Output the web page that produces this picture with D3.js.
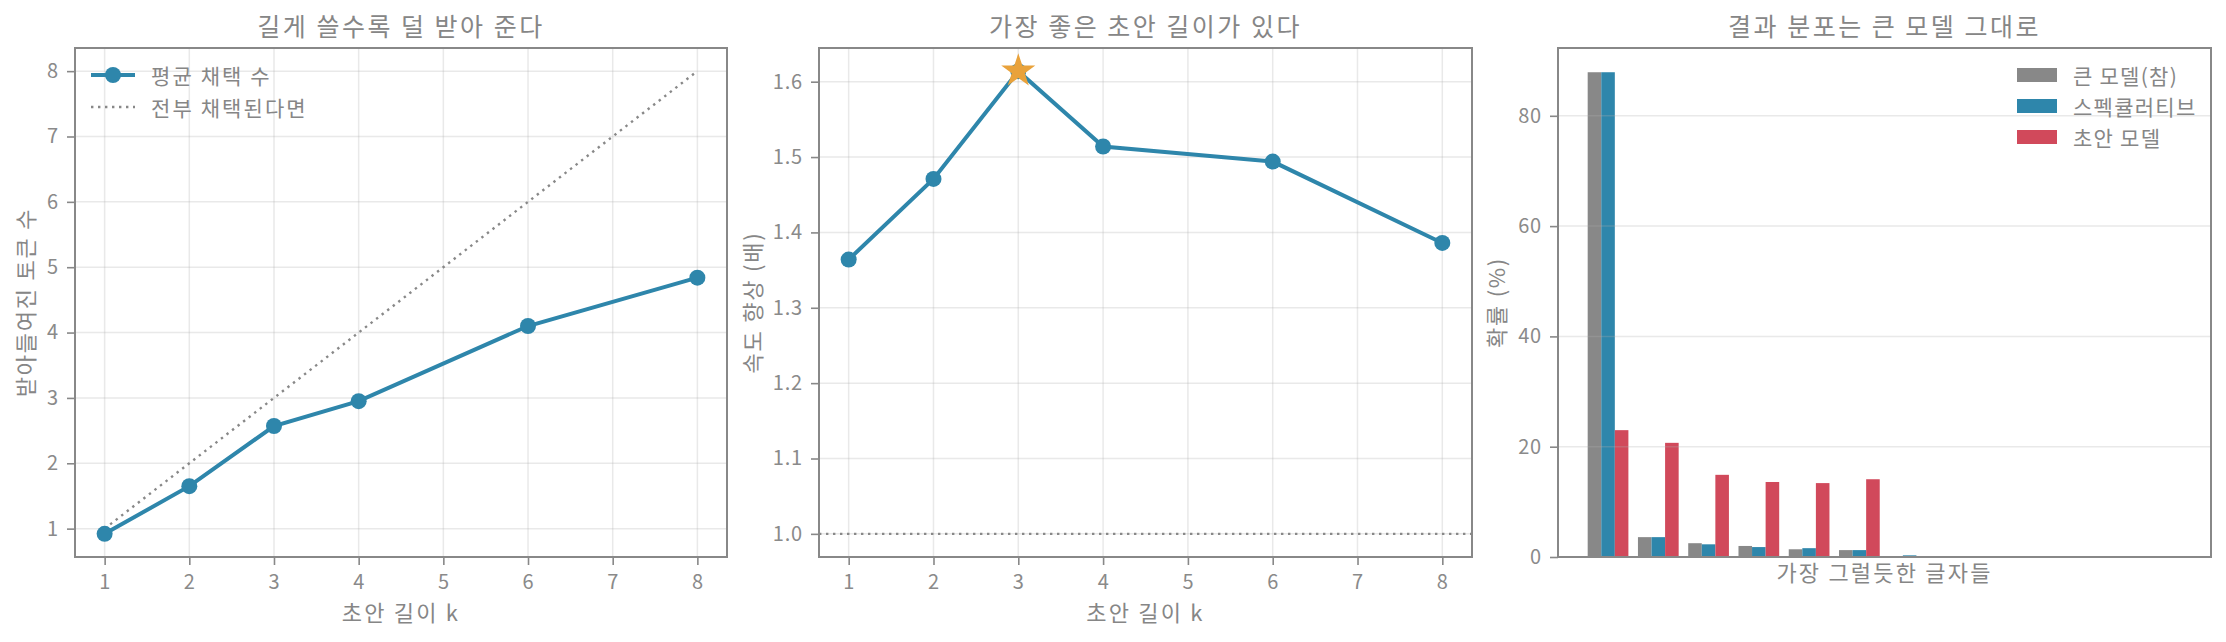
<!DOCTYPE html>
<html>
<head>
<meta charset="utf-8">
<script src="https://cdn.jsdelivr.net/npm/d3@7"></script>
<style>
  body { margin: 0; background: #fff; }
  svg text { font-family: "Noto Sans CJK KR", "Noto Sans", sans-serif; fill: #868686; letter-spacing: 0.06em; }
  .tick line { stroke: #888; stroke-width: 1.6; }
  .tick text { font-size: 20px; fill: #8a8a8a; letter-spacing: 0.04em; }
</style>
</head>
<body>
<div id="chart"></div>
<script>
// data
var draftLengths = [1, 2, 3, 4, 6, 8];
var acceptedTokens = [0.92, 1.65, 2.57, 2.95, 4.10, 4.84];
var speedups = [1.364, 1.471, 1.614, 1.514, 1.494, 1.386];
var bestK = 3;

var tokenRanks = [1, 2, 3, 4, 5, 6, 7, 8, 9, 10, 11, 12];
var seriesNames = ["큰 모델(참)", "스펙큘러티브", "초안 모델"];
var targetProbs = [87.9, 3.6, 2.5, 2.0, 1.4, 1.25, 0.1, 0.1, 0.1, 0.1, 0.1, 0.1];
var specProbs = [87.9, 3.6, 2.3, 1.8, 1.6, 1.25, 0.3, 0.05, 0.05, 0.05, 0.05, 0.05];
var draftProbs = [23.0, 20.7, 14.9, 13.6, 13.4, 14.1, 0, 0, 0, 0, 0, 0];

var kTicks = [1, 2, 3, 4, 5, 6, 7, 8];
var acceptTicks = [1, 2, 3, 4, 5, 6, 7, 8];
var speedTicks = [1.0, 1.1, 1.2, 1.3, 1.4, 1.5, 1.6];
var probTicks = [0, 20, 40, 60, 80];

var titles = ["길게 쓸수록 덜 받아 준다", "가장 좋은 초안 길이가 있다", "결과 분포는 큰 모델 그대로"];

var blue = "#2E86AB", red = "#D1495B", gray = "#888888", orange = "#E9A23B";
var seriesColors = [gray, blue, red];

var svgWidth = 2226, svgHeight = 642;
var plotTop = 48, plotBottom = 557;
var panels = [
  { left: 75, right: 727, ylabelX: 24 },
  { left: 819, right: 1472, ylabelX: 751 },
  { left: 1558, right: 2211, ylabelX: 1495 }
];

var svg = d3.select("#chart")
  .append("svg")
  .attr("width", svgWidth)
  .attr("height", svgHeight);

// matplotlib style 5% margins
function padded(lo, hi) {
  var m = (hi - lo) * 0.05;
  return [lo - m, hi + m];
}

function drawGrid(g, x, y, xs, ys, p) {
  var grid = g.append("g").attr("class", "grid");
  grid.selectAll(".gx").data(xs).enter().append("line")
    .attr("x1", d => x(d)).attr("x2", d => x(d))
    .attr("y1", plotTop).attr("y2", plotBottom)
    .attr("stroke", "#b0b0b0").attr("stroke-opacity", 0.28).attr("stroke-width", 1.5);
  grid.selectAll(".gy").data(ys).enter().append("line")
    .attr("x1", p.left).attr("x2", p.right)
    .attr("y1", d => y(d)).attr("y2", d => y(d))
    .attr("stroke", "#b0b0b0").attr("stroke-opacity", 0.28).attr("stroke-width", 1.5);
}

function drawFrame(p, i, xlabel, xlabelY, ylabel) {
  svg.append("rect")
    .attr("x", p.left).attr("y", plotTop)
    .attr("width", p.right - p.left).attr("height", plotBottom - plotTop)
    .attr("fill", "none").attr("stroke", "#888").attr("stroke-width", 2);

  svg.append("text")
    .attr("x", (p.left + p.right) / 2).attr("y", 36)
    .attr("text-anchor", "middle")
    .attr("font-size", "25px")
    .attr("fill", "#7a7a7a")
    .style("letter-spacing", "0.1em")
    .text(titles[i]);

  svg.append("text")
    .attr("x", (p.left + p.right) / 2).attr("y", xlabelY)
    .attr("text-anchor", "middle")
    .attr("font-size", "22px")
    .style("letter-spacing", "0.1em")
    .text(xlabel);

  svg.append("text")
    .attr("transform", `translate(${p.ylabelX},${(plotTop + plotBottom) / 2})rotate(-90)`)
    .attr("text-anchor", "middle")
    .attr("dominant-baseline", "central")
    .attr("font-size", "22px")
    .style("letter-spacing", "0.08em")
    .text(ylabel);
}

function drawAxes(x, y, xs, ys, p, fmt) {
  if (x) {
    var xAxis = svg.append("g")
      .attr("transform", `translate(0, ${plotBottom})`)
      .call(d3.axisBottom(x).tickValues(xs).tickSize(8).tickPadding(10).tickFormat(d3.format("d")));
    xAxis.select(".domain").remove();
  }
  var yAxis = svg.append("g")
    .attr("transform", `translate(${p.left}, 0)`)
    .call(d3.axisLeft(y).tickValues(ys).tickSize(8).tickPadding(8).tickFormat(fmt));
  yAxis.select(".domain").remove();
}

// ---------- panel 1: accepted tokens ----------
var p1 = panels[0];
var x1 = d3.scaleLinear().domain(padded(1, 8)).range([p1.left, p1.right]);
var y1 = d3.scaleLinear()
  .domain(padded(d3.min(acceptedTokens), d3.max(draftLengths)))
  .range([plotBottom, plotTop]);

var g1 = svg.append("g");
drawGrid(g1, x1, y1, kTicks, acceptTicks, p1);

var ideal = d3.line().x(d => x1(d)).y(d => y1(d));
g1.append("path")
  .datum(draftLengths)
  .attr("d", ideal)
  .attr("fill", "none")
  .attr("stroke", gray)
  .attr("stroke-width", 2.4)
  .attr("stroke-dasharray", "2.4,4.6");

var acceptLine = d3.line().x((d, i) => x1(draftLengths[i])).y(d => y1(d));
g1.append("path")
  .datum(acceptedTokens)
  .attr("d", acceptLine)
  .attr("fill", "none")
  .attr("stroke", blue)
  .attr("stroke-width", 4);

g1.selectAll("circle")
  .data(acceptedTokens)
  .enter()
  .append("circle")
  .attr("cx", (d, i) => x1(draftLengths[i]))
  .attr("cy", d => y1(d))
  .attr("r", 8)
  .attr("fill", blue);

drawFrame(p1, 0, "초안 길이 k", 621, "받아들여진 토큰 수");
drawAxes(x1, y1, kTicks, acceptTicks, p1, d3.format("d"));

// legend
var leg1 = svg.append("g");
leg1.append("line").attr("x1", 91).attr("x2", 135).attr("y1", 75).attr("y2", 75)
  .attr("stroke", blue).attr("stroke-width", 4);
leg1.append("circle").attr("cx", 113).attr("cy", 75).attr("r", 8).attr("fill", blue);
leg1.append("text").attr("x", 151).attr("y", 75).attr("dominant-baseline", "central")
  .attr("font-size", "21px").style("letter-spacing", "0.1em").text("평균 채택 수");
leg1.append("line").attr("x1", 91).attr("x2", 135).attr("y1", 107).attr("y2", 107)
  .attr("stroke", gray).attr("stroke-width", 2.4).attr("stroke-dasharray", "2.4,4.6");
leg1.append("text").attr("x", 151).attr("y", 107).attr("dominant-baseline", "central")
  .attr("font-size", "21px").style("letter-spacing", "0.1em").text("전부 채택된다면");

// ---------- panel 2: speedup ----------
var p2 = panels[1];
var x2 = d3.scaleLinear().domain(padded(1, 8)).range([p2.left, p2.right]);
var y2 = d3.scaleLinear()
  .domain(padded(1.0, d3.max(speedups)))
  .range([plotBottom, plotTop]);

var g2 = svg.append("g");
drawGrid(g2, x2, y2, kTicks, speedTicks, p2);

g2.append("line")
  .attr("x1", p2.left).attr("x2", p2.right)
  .attr("y1", y2(1.0)).attr("y2", y2(1.0))
  .attr("stroke", gray).attr("stroke-width", 2.4)
  .attr("stroke-dasharray", "2.4,4.6");

var speedLine = d3.line().x((d, i) => x2(draftLengths[i])).y(d => y2(d));
g2.append("path")
  .datum(speedups)
  .attr("d", speedLine)
  .attr("fill", "none")
  .attr("stroke", blue)
  .attr("stroke-width", 4);

g2.selectAll("circle")
  .data(speedups)
  .enter()
  .append("circle")
  .attr("cx", (d, i) => x2(draftLengths[i]))
  .attr("cy", d => y2(d))
  .attr("r", 8)
  .attr("fill", blue);

// best k gets a star
var bestIdx = draftLengths.indexOf(bestK);
g2.append("path")
  .attr("d", d3.symbol().type(d3.symbolStar).size(360))
  .attr("transform", `translate(${x2(bestK)},${y2(speedups[bestIdx])})`)
  .attr("fill", orange);

drawFrame(p2, 1, "초안 길이 k", 621, "속도 향상 (배)");
drawAxes(x2, y2, kTicks, speedTicks, p2, d3.format(".1f"));

// ---------- panel 3: distribution ----------
var p3 = panels[2];
var barW = 0.27;
var x3 = d3.scaleLinear()
  .domain(padded(-1.5 * barW, tokenRanks.length - 1 + 1.5 * barW))
  .range([p3.left, p3.right]);
var allProbs = [targetProbs, specProbs, draftProbs];
var y3 = d3.scaleLinear()
  .domain([0, d3.max(targetProbs.concat(specProbs, draftProbs)) * 1.05])
  .range([plotBottom, plotTop]);

var g3 = svg.append("g");
allProbs.forEach(function(series, j) {
  g3.append("g")
    .selectAll("rect")
    .data(series)
    .enter()
    .append("rect")
    .attr("x", (d, i) => x3(i + (j - 1) * barW - barW / 2))
    .attr("width", x3(barW) - x3(0))
    .attr("y", d => y3(d))
    .attr("height", d => y3(0) - y3(d))
    .attr("fill", seriesColors[j]);
});
drawGrid(g3, x3, y3, [], probTicks, p3);

drawFrame(p3, 2, "가장 그럴듯한 글자들", 581, "확률 (%)");
drawAxes(null, y3, [], probTicks, p3, d3.format("d"));

var leg3 = svg.append("g").selectAll("g")
  .data(seriesNames)
  .enter()
  .append("g")
  .attr("transform", (d, i) => `translate(2017, ${75 + i * 31})`);
leg3.append("rect")
  .attr("x", 0).attr("y", -7).attr("width", 40).attr("height", 14)
  .attr("fill", (d, i) => seriesColors[i]);
leg3.append("text")
  .attr("x", 56).attr("y", 0)
  .attr("dominant-baseline", "central")
  .attr("font-size", "21px")
  .style("letter-spacing", "0.06em")
  .text(d => d);
</script>
</body>
</html>
